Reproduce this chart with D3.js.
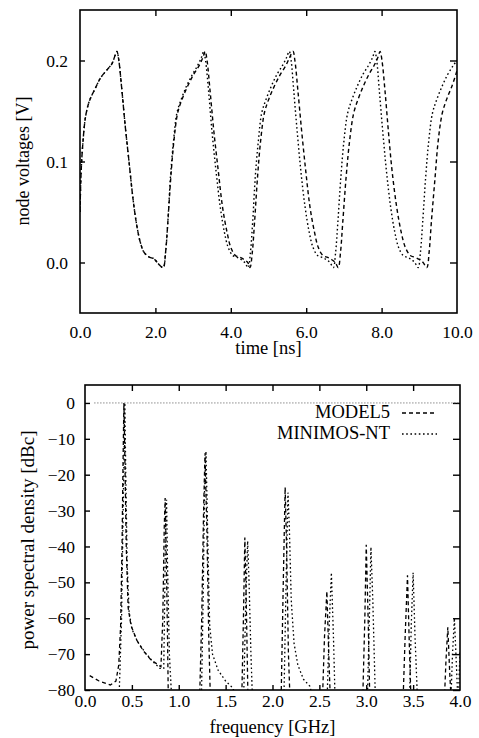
<!DOCTYPE html>
<html>
<head>
<meta charset="utf-8">
<script src="https://cdn.jsdelivr.net/npm/d3@7"></script>
<style>
    body { margin: 0; background: #fff; }
    svg { display: block; }
    text { font-family: "Liberation Serif", "DejaVu Serif", serif; fill: #000; }
</style>
</head>
<body>
<svg id="chart" width="479" height="738"></svg>
<script>
// time domain, [t (ns), v (V)]
const model5Wave = [
    [0.0, 0.05], [0.03, 0.09], [0.08, 0.12], [0.15, 0.145], [0.25, 0.16], [0.4, 0.172], [0.55, 0.183],
    [0.7, 0.19], [0.85, 0.197], [0.93, 0.205], [0.98, 0.209], [1.03, 0.2], [1.1, 0.175], [1.2, 0.135],
    [1.3, 0.1], [1.4, 0.065], [1.5, 0.038], [1.6, 0.02], [1.7, 0.01], [1.85, 0.005], [1.95, 0.004],
    [2.05, 0.0], [2.15, -0.004], [2.21, -0.005],
    [2.27, 0.01], [2.33, 0.04], [2.41, 0.085], [2.49, 0.12], [2.59, 0.148], [2.71, 0.162], [2.86, 0.175],
    [3.01, 0.186], [3.16, 0.195], [3.26, 0.203], [3.32, 0.209], [3.37, 0.2], [3.45, 0.17], [3.55, 0.13],
    [3.67, 0.09], [3.78, 0.055], [3.9, 0.03], [4.0, 0.015], [4.12, 0.007], [4.25, 0.005], [4.35, 0.003],
    [4.45, 0.0], [4.51, -0.005],
    [4.57, 0.01], [4.63, 0.04], [4.71, 0.085], [4.79, 0.12], [4.89, 0.148], [5.01, 0.162], [5.16, 0.175],
    [5.31, 0.186], [5.46, 0.195], [5.56, 0.203], [5.65, 0.209], [5.7, 0.2], [5.78, 0.17], [5.88, 0.13],
    [5.99, 0.09], [6.1, 0.055], [6.22, 0.03], [6.32, 0.015], [6.44, 0.007], [6.57, 0.005], [6.67, 0.003],
    [6.77, 0.0], [6.85, -0.005],
    [6.91, 0.01], [6.97, 0.04], [7.06, 0.085], [7.15, 0.12], [7.26, 0.148], [7.38, 0.162], [7.52, 0.175],
    [7.66, 0.186], [7.8, 0.195], [7.9, 0.203], [7.96, 0.209], [8.01, 0.2], [8.09, 0.17], [8.18, 0.13],
    [8.28, 0.09], [8.4, 0.055], [8.52, 0.03], [8.63, 0.015], [8.76, 0.007], [8.9, 0.005], [9.0, 0.003],
    [9.1, 0.0], [9.2, -0.005],
    [9.26, 0.01], [9.32, 0.04], [9.42, 0.085], [9.5, 0.12], [9.61, 0.148], [9.73, 0.162], [9.87, 0.175],
    [10.0, 0.19]
];

const minimosWave = [
    [0.0, 0.05], [0.03, 0.09], [0.08, 0.12], [0.15, 0.145], [0.25, 0.16], [0.4, 0.172], [0.55, 0.183],
    [0.7, 0.19], [0.85, 0.197], [0.93, 0.205], [0.98, 0.209], [1.03, 0.2], [1.1, 0.175], [1.2, 0.135],
    [1.3, 0.1], [1.4, 0.065], [1.5, 0.038], [1.6, 0.02], [1.7, 0.01], [1.85, 0.005], [1.95, 0.004],
    [2.05, 0.0], [2.15, -0.004], [2.21, -0.005],
    [2.27, 0.01], [2.33, 0.04], [2.4, 0.085], [2.48, 0.12], [2.57, 0.148], [2.69, 0.162], [2.83, 0.175],
    [2.98, 0.186], [3.12, 0.195], [3.22, 0.203], [3.28, 0.209], [3.33, 0.2], [3.41, 0.17], [3.5, 0.13],
    [3.61, 0.09], [3.72, 0.055], [3.83, 0.03], [3.93, 0.015], [4.05, 0.007], [4.17, 0.005], [4.27, 0.003],
    [4.37, 0.0], [4.46, -0.005],
    [4.52, 0.01], [4.58, 0.04], [4.65, 0.085], [4.73, 0.12], [4.82, 0.148], [4.94, 0.162], [5.08, 0.175],
    [5.22, 0.186], [5.37, 0.195], [5.48, 0.203], [5.55, 0.209], [5.6, 0.2], [5.67, 0.17], [5.76, 0.13],
    [5.86, 0.09], [5.97, 0.055], [6.08, 0.03], [6.18, 0.015], [6.3, 0.007], [6.42, 0.005], [6.53, 0.003],
    [6.63, 0.0], [6.72, -0.005],
    [6.78, 0.01], [6.84, 0.04], [6.92, 0.085], [7.0, 0.12], [7.1, 0.148], [7.22, 0.162], [7.36, 0.175],
    [7.5, 0.186], [7.65, 0.195], [7.76, 0.203], [7.82, 0.209], [7.87, 0.2], [7.94, 0.17], [8.03, 0.13],
    [8.13, 0.09], [8.24, 0.055], [8.35, 0.03], [8.45, 0.015], [8.57, 0.007], [8.69, 0.005], [8.79, 0.003],
    [8.88, 0.0], [8.97, -0.005],
    [9.03, 0.01], [9.09, 0.04], [9.17, 0.085], [9.25, 0.12], [9.35, 0.148], [9.47, 0.162], [9.61, 0.175],
    [9.75, 0.186], [9.9, 0.195], [10.0, 0.2]
];

// spectrum, [f (GHz), dBc]
const model5Psd = [
    [0.05, -76.0], [0.15, -77.5], [0.27, -78.6], [0.33, -77.5], [0.36, -73], [0.38, -62], [0.395, -40],
    [0.405, -18], [0.415, 0], [0.425, -15], [0.44, -40], [0.46, -57], [0.49, -62], [0.55, -66],
    [0.62, -69], [0.7, -71.5], [0.78, -73], [0.81, -73.5], [0.83, -60], [0.845, -35], [0.855, -26.5],
    [0.865, -40], [0.88, -65], [0.89, -85],
    [1.22, -85], [1.245, -60], [1.265, -30], [1.28, -14], [1.29, -25], [1.3, -35], [1.32, -65], [1.34, -85],
    [1.67, -85], [1.69, -60], [1.705, -37.5], [1.72, -55], [1.74, -85],
    [2.09, -85], [2.115, -50], [2.135, -23.5], [2.15, -40], [2.17, -70], [2.19, -85],
    [2.53, -85], [2.555, -65], [2.58, -52.5], [2.6, -70], [2.62, -85],
    [2.96, -85], [2.985, -60], [3.0, -39.5], [3.02, -60], [3.04, -85],
    [3.39, -85], [3.415, -65], [3.44, -48], [3.46, -68], [3.48, -85],
    [3.83, -85], [3.85, -72], [3.87, -62.5], [3.89, -75], [3.91, -85]
];

const minimosPsd = [
    [0.36, -85], [0.39, -60], [0.41, -25], [0.425, 0], [0.435, -20], [0.45, -45], [0.47, -58],
    [0.5, -63], [0.56, -66.5], [0.64, -69.5], [0.72, -72], [0.8, -74], [0.84, -74], [0.85, -55],
    [0.86, -32], [0.87, -27], [0.88, -45], [0.9, -70], [0.93, -85],
    [1.24, -85], [1.26, -55], [1.275, -25], [1.29, -13.5], [1.3, -25], [1.315, -45], [1.33, -62],
    [1.36, -70], [1.42, -74.5], [1.5, -77.5], [1.58, -79.5], [1.62, -85],
    [1.69, -85], [1.715, -55], [1.735, -38.5], [1.75, -50], [1.77, -70], [1.79, -85],
    [2.12, -85], [2.145, -50], [2.165, -25], [2.18, -35], [2.2, -55], [2.23, -67], [2.27, -73],
    [2.33, -77], [2.4, -79], [2.45, -85],
    [2.58, -85], [2.605, -62], [2.628, -47.3], [2.65, -65], [2.67, -85],
    [3.01, -85], [3.035, -58], [3.05, -40.2], [3.07, -55], [3.1, -85],
    [3.46, -85], [3.48, -62], [3.5, -47.3], [3.52, -65], [3.55, -85],
    [3.9, -85], [3.92, -70], [3.94, -60], [3.96, -72], [3.98, -85], [4.0, -69]
];

const seriesNames = ["MODEL5", "MINIMOS-NT"];
const timeTicks = [0, 2, 4, 6, 8, 10];
const voltTicks = [0, 0.1, 0.2];
const freqTicks = [0, 0.5, 1, 1.5, 2, 2.5, 3, 3.5, 4];
const dbTicks = [0, -10, -20, -30, -40, -50, -60, -70, -80];

const dashes = ["4,3", "1.6,2.6"];

const svg = d3.select("#chart");

function panel(box, xDomain, yDomain, xTicks, yTicks, xFmt, yFmt, xPad, yPad, id) {
    const x = d3.scaleLinear().domain(xDomain).range([box.left, box.right]);
    const y = d3.scaleLinear().domain(yDomain).range([box.bottom, box.top]);
    const g = svg.append("g");

    g.append("clipPath").attr("id", id)
        .append("rect")
        .attr("x", box.left).attr("y", box.top)
        .attr("width", box.right - box.left).attr("height", box.bottom - box.top);

    const dom = x.domain();
    const innerX = xTicks.filter(t => t > dom[0] && t < dom[1]);

    g.append("g")
        .attr("transform", `translate(0,${box.bottom})`)
        .call(d3.axisBottom(x).tickValues(xTicks).tickSize(-5).tickPadding(xPad).tickFormat(xFmt))
        .call(a => a.selectAll(".tick line").filter(d => !innerX.includes(d)).remove());

    g.append("g")
        .attr("transform", `translate(0,${box.top})`)
        .call(d3.axisTop(x).tickValues(innerX).tickSize(-6).tickFormat(""));

    g.append("g")
        .attr("transform", `translate(${box.left},0)`)
        .call(d3.axisLeft(y).tickValues(yTicks).tickSize(-5).tickPadding(yPad).tickFormat(yFmt));

    g.append("g")
        .attr("transform", `translate(${box.right},0)`)
        .call(d3.axisRight(y).tickValues(yTicks).tickSize(-7).tickFormat(""));

    g.selectAll(".domain").remove();
    g.selectAll(".tick line").attr("stroke", "#000").attr("stroke-width", 1.4);
    g.selectAll(".tick text")
        .attr("font-family", "Liberation Serif, serif")
        .attr("font-size", 17.5)
        .attr("fill", "#000");

    g.append("rect")
        .attr("x", box.left).attr("y", box.top)
        .attr("width", box.right - box.left).attr("height", box.bottom - box.top)
        .attr("fill", "none")
        .attr("stroke", "#000")
        .attr("stroke-width", 1.6);

    return { g, x, y };
}

// upper panel: node voltages
const upper = panel({ left: 80, right: 457, top: 10, bottom: 313 },
    [0, 10], [-0.05, 0.25], timeTicks, voltTicks, d3.format(".1f"), d3.format(".1f"), 13, 12, "clipUpper");

const waveLine = d3.line()
    .x(d => upper.x(d[0]))
    .y(d => upper.y(d[1]))
    .curve(d3.curveCatmullRom);

upper.g.append("g")
    .attr("clip-path", "url(#clipUpper)")
    .selectAll("path")
    .data([model5Wave, minimosWave])
    .join("path")
    .attr("d", waveLine)
    .attr("fill", "none")
    .attr("stroke", "#000")
    .attr("stroke-width", 1.4)
    .attr("stroke-dasharray", (d, i) => dashes[i]);

upper.g.append("text")
    .attr("x", (80 + 457) / 2)
    .attr("y", 354)
    .attr("text-anchor", "middle")
    .attr("font-size", 18.5)
    .text("time [ns]");

upper.g.append("text")
    .attr("transform", "translate(29,161) rotate(-90)")
    .attr("text-anchor", "middle")
    .attr("font-size", 18)
    .text("node voltages [V]");

// lower panel: spectrum
const lower = panel({ left: 85, right: 460, top: 385, bottom: 690 },
    [0, 4], [-80, 5], freqTicks, dbTicks, d3.format(".1f"), d3.format("d"), 5, 10, "clipLower");

// 0 dBc reference
lower.g.append("line")
    .attr("x1", lower.x(0.1)).attr("x2", lower.x(4))
    .attr("y1", lower.y(0)).attr("y2", lower.y(0))
    .attr("stroke", "#555")
    .attr("stroke-width", 1)
    .attr("stroke-dasharray", "1,2");

const psdLine = d3.line()
    .x(d => lower.x(d[0]))
    .y(d => lower.y(d[1]));

lower.g.append("g")
    .attr("clip-path", "url(#clipLower)")
    .selectAll("path")
    .data([model5Psd, minimosPsd])
    .join("path")
    .attr("d", psdLine)
    .attr("fill", "none")
    .attr("stroke", "#000")
    .attr("stroke-width", 1.3)
    .attr("stroke-dasharray", (d, i) => dashes[i]);

const legend = lower.g.append("g")
    .selectAll("g")
    .data(seriesNames)
    .join("g")
    .attr("transform", (d, i) => `translate(0,${418 + i * 21})`);

legend.append("text")
    .attr("x", 390)
    .attr("text-anchor", "end")
    .attr("font-size", 18.5)
    .text(d => d);

legend.append("line")
    .attr("x1", 402).attr("x2", 437)
    .attr("y1", -5).attr("y2", -5)
    .attr("stroke", "#000")
    .attr("stroke-width", 1.3)
    .attr("stroke-dasharray", (d, i) => dashes[i]);

lower.g.append("text")
    .attr("x", (85 + 460) / 2)
    .attr("y", 733)
    .attr("text-anchor", "middle")
    .attr("font-size", 18.5)
    .text("frequency [GHz]");

lower.g.append("text")
    .attr("transform", "translate(34,540) rotate(-90)")
    .attr("text-anchor", "middle")
    .attr("font-size", 19)
    .text("power spectral density [dBc]");
</script>
</body>
</html>
